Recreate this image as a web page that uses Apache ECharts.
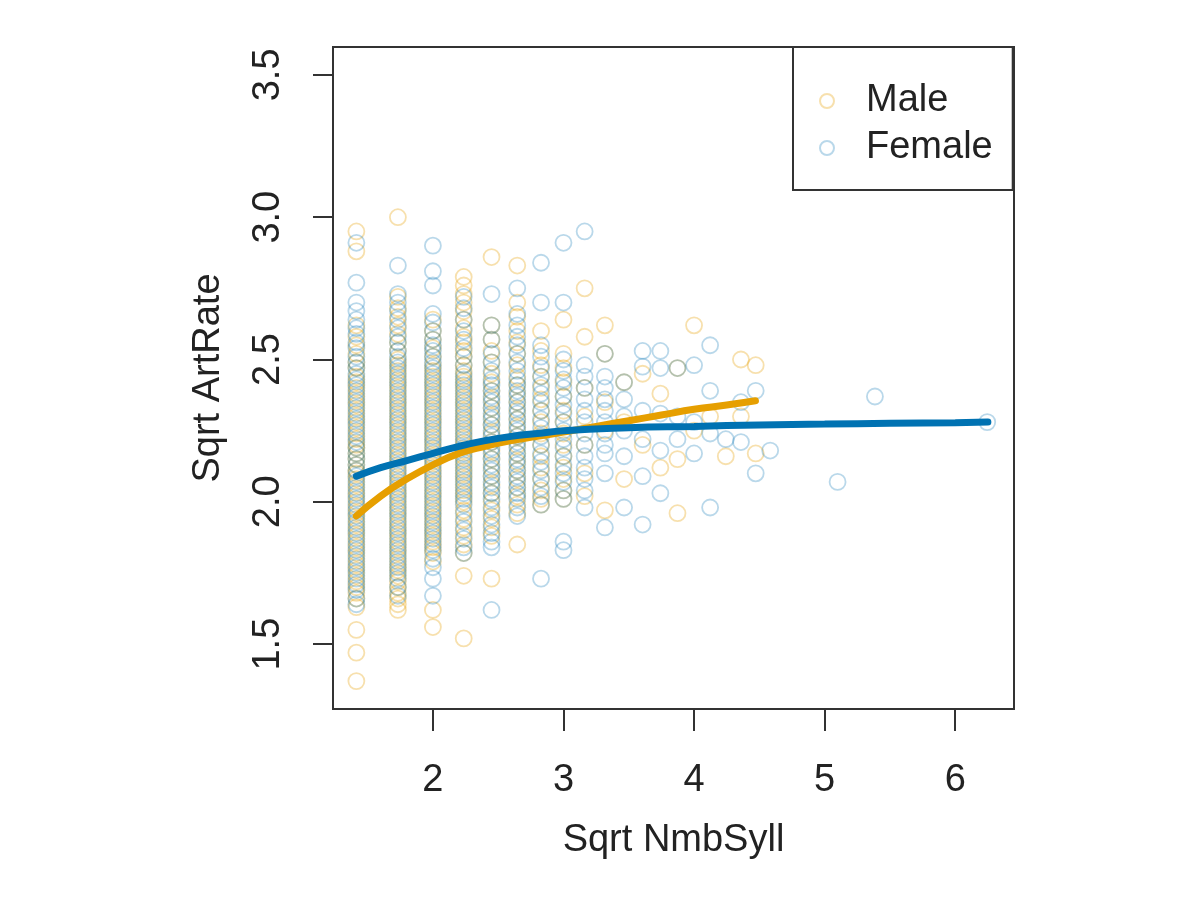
<!DOCTYPE html>
<html>
<head>
    <meta charset="UTF-8">
    <title>Sqrt ArtRate vs Sqrt NmbSyll</title>
    <script src="https://cdn.jsdelivr.net/npm/echarts@6/dist/echarts.min.js"></script>
    <style>
        html, body { margin: 0; padding: 0; background: #fff; }
        #chart { width: 1200px; height: 911px; }
    </style>
</head>
<body>
<div id="chart"></div>
<script>
    // x positions of the dense columns (sqrt of syllable count 2..9)
    var colX = [1.414, 1.732, 2.0, 2.236, 2.449, 2.646, 2.828, 3.0];

    // y values read per column, male
    var maleCols = [
        [2.95, 2.88, 2.62, 2.58, 2.55, 2.52, 2.49, 2.47, 2.44, 2.42, 2.40, 2.38, 2.36, 2.34, 2.32, 2.30, 2.28, 2.26, 2.24, 2.22, 2.20, 2.19, 2.17, 2.15, 2.13, 2.11, 2.10, 2.08, 2.06, 2.04, 2.02, 2.00, 1.98, 1.96, 1.94, 1.92, 1.90, 1.88, 1.86, 1.84, 1.82, 1.80, 1.78, 1.76, 1.74, 1.72, 1.70, 1.68, 1.66, 1.63, 1.55, 1.47, 1.37],
        [3.00, 2.72, 2.68, 2.65, 2.62, 2.59, 2.56, 2.53, 2.50, 2.48, 2.46, 2.44, 2.42, 2.40, 2.38, 2.36, 2.34, 2.32, 2.30, 2.28, 2.26, 2.24, 2.22, 2.20, 2.18, 2.16, 2.14, 2.12, 2.10, 2.08, 2.06, 2.04, 2.02, 2.00, 1.98, 1.96, 1.94, 1.92, 1.90, 1.88, 1.86, 1.84, 1.82, 1.80, 1.78, 1.76, 1.74, 1.72, 1.70, 1.68, 1.66, 1.64, 1.62],
        [2.64, 2.60, 2.57, 2.54, 2.51, 2.48, 2.46, 2.44, 2.42, 2.40, 2.38, 2.36, 2.34, 2.32, 2.30, 2.28, 2.26, 2.24, 2.22, 2.20, 2.18, 2.16, 2.14, 2.12, 2.10, 2.08, 2.06, 2.04, 2.02, 2.00, 1.98, 1.96, 1.94, 1.92, 1.90, 1.88, 1.86, 1.84, 1.82, 1.79, 1.62, 1.56],
        [2.79, 2.76, 2.73, 2.70, 2.67, 2.64, 2.61, 2.58, 2.56, 2.53, 2.51, 2.48, 2.46, 2.44, 2.42, 2.40, 2.38, 2.36, 2.34, 2.32, 2.30, 2.28, 2.26, 2.24, 2.22, 2.20, 2.18, 2.16, 2.14, 2.12, 2.10, 2.08, 2.06, 2.04, 2.02, 2.00, 1.97, 1.94, 1.91, 1.88, 1.85, 1.82, 1.74, 1.52],
        [2.86, 2.62, 2.57, 2.53, 2.49, 2.45, 2.42, 2.39, 2.36, 2.33, 2.30, 2.27, 2.24, 2.21, 2.18, 2.15, 2.12, 2.09, 2.06, 2.03, 2.00, 1.97, 1.94, 1.91, 1.88, 1.73],
        [2.83, 2.70, 2.65, 2.60, 2.56, 2.52, 2.48, 2.44, 2.41, 2.38, 2.35, 2.32, 2.29, 2.26, 2.23, 2.20, 2.17, 2.14, 2.11, 2.08, 2.05, 2.02, 1.99, 1.96, 1.85],
        [2.60, 2.53, 2.48, 2.44, 2.40, 2.36, 2.32, 2.28, 2.24, 2.20, 2.16, 2.12, 2.08, 2.04, 2.01, 1.99],
        [2.64, 2.52, 2.47, 2.42, 2.37, 2.32, 2.28, 2.24, 2.20, 2.16, 2.12, 2.08, 2.04, 2.01]
    ];

    // y values read per column, female
    var femaleCols = [
        [2.91, 2.77, 2.70, 2.67, 2.64, 2.61, 2.59, 2.56, 2.54, 2.51, 2.49, 2.47, 2.45, 2.43, 2.41, 2.39, 2.37, 2.35, 2.33, 2.31, 2.29, 2.27, 2.25, 2.23, 2.21, 2.19, 2.17, 2.15, 2.13, 2.11, 2.09, 2.07, 2.05, 2.03, 2.01, 1.99, 1.97, 1.95, 1.93, 1.91, 1.89, 1.87, 1.85, 1.83, 1.81, 1.79, 1.77, 1.75, 1.73, 1.71, 1.69, 1.66, 1.64],
        [2.83, 2.73, 2.70, 2.67, 2.64, 2.61, 2.58, 2.56, 2.53, 2.51, 2.49, 2.47, 2.45, 2.43, 2.41, 2.39, 2.37, 2.35, 2.33, 2.31, 2.29, 2.27, 2.25, 2.23, 2.21, 2.19, 2.17, 2.15, 2.13, 2.11, 2.09, 2.07, 2.05, 2.03, 2.01, 1.99, 1.97, 1.95, 1.93, 1.91, 1.89, 1.87, 1.85, 1.83, 1.81, 1.79, 1.77, 1.75, 1.73, 1.70, 1.67],
        [2.90, 2.81, 2.76, 2.66, 2.63, 2.60, 2.57, 2.55, 2.53, 2.51, 2.49, 2.47, 2.45, 2.43, 2.41, 2.39, 2.37, 2.35, 2.33, 2.31, 2.29, 2.27, 2.25, 2.23, 2.21, 2.19, 2.17, 2.15, 2.13, 2.11, 2.09, 2.07, 2.05, 2.03, 2.01, 1.99, 1.97, 1.95, 1.93, 1.91, 1.89, 1.87, 1.85, 1.83, 1.80, 1.77, 1.73, 1.67],
        [2.72, 2.68, 2.64, 2.60, 2.57, 2.54, 2.51, 2.48, 2.45, 2.43, 2.41, 2.39, 2.37, 2.35, 2.33, 2.31, 2.29, 2.27, 2.25, 2.23, 2.21, 2.19, 2.17, 2.15, 2.13, 2.11, 2.09, 2.07, 2.05, 2.03, 2.01, 1.99, 1.96, 1.93, 1.90, 1.87, 1.84, 1.82],
        [2.73, 2.62, 2.57, 2.52, 2.49, 2.46, 2.43, 2.41, 2.39, 2.37, 2.35, 2.33, 2.31, 2.29, 2.27, 2.25, 2.23, 2.21, 2.19, 2.17, 2.15, 2.13, 2.11, 2.09, 2.07, 2.05, 2.03, 2.01, 1.98, 1.95, 1.92, 1.89, 1.86, 1.84, 1.62],
        [2.75, 2.66, 2.62, 2.58, 2.55, 2.52, 2.49, 2.46, 2.43, 2.41, 2.39, 2.37, 2.35, 2.33, 2.31, 2.29, 2.27, 2.25, 2.23, 2.21, 2.19, 2.17, 2.15, 2.13, 2.11, 2.09, 2.07, 2.05, 2.03, 2.01, 1.98, 1.95],
        [2.84, 2.70, 2.55, 2.51, 2.47, 2.44, 2.41, 2.38, 2.35, 2.32, 2.29, 2.26, 2.23, 2.20, 2.17, 2.14, 2.11, 2.08, 2.05, 2.02, 1.99, 1.73],
        [2.91, 2.70, 2.50, 2.46, 2.43, 2.40, 2.37, 2.34, 2.31, 2.28, 2.25, 2.22, 2.19, 2.16, 2.13, 2.10, 2.07, 2.04, 2.01, 1.86, 1.83]
    ];

    // sparse points further right [x, y]
    var maleExtra = [
        [3.162, 2.75], [3.162, 2.58], [3.162, 2.40], [3.162, 2.30], [3.162, 2.20], [3.162, 2.10], [3.162, 2.02],
        [3.317, 2.62], [3.317, 2.52], [3.317, 2.35], [3.317, 2.25], [3.317, 1.97],
        [3.464, 2.42], [3.464, 2.28], [3.464, 2.08],
        [3.606, 2.45], [3.606, 2.20],
        [3.742, 2.38], [3.742, 2.12],
        [3.873, 2.47], [3.873, 2.15], [3.873, 1.96],
        [4.0, 2.62], [4.0, 2.25],
        [4.123, 2.30], [4.243, 2.16],
        [4.359, 2.50], [4.359, 2.30],
        [4.472, 2.48], [4.472, 2.17]
    ];
    var femaleExtra = [
        [3.162, 2.95], [3.162, 2.48], [3.162, 2.44], [3.162, 2.40], [3.162, 2.36], [3.162, 2.32], [3.162, 2.28],
        [3.162, 2.24], [3.162, 2.20], [3.162, 2.16], [3.162, 2.12], [3.162, 2.08], [3.162, 2.04], [3.162, 1.98],
        [3.317, 2.52], [3.317, 2.44], [3.317, 2.40], [3.317, 2.36], [3.317, 2.32], [3.317, 2.28], [3.317, 2.24],
        [3.317, 2.20], [3.317, 2.17], [3.317, 2.10], [3.317, 1.91],
        [3.464, 2.42], [3.464, 2.36], [3.464, 2.30], [3.464, 2.25], [3.464, 2.16], [3.464, 1.98],
        [3.606, 2.53], [3.606, 2.475], [3.606, 2.32], [3.606, 2.22], [3.606, 2.09], [3.606, 1.92],
        [3.742, 2.53], [3.742, 2.47], [3.742, 2.31], [3.742, 2.18], [3.742, 2.03],
        [3.873, 2.47], [3.873, 2.30], [3.873, 2.22],
        [4.0, 2.48], [4.0, 2.28], [4.0, 2.17],
        [4.123, 2.55], [4.123, 2.39], [4.123, 2.24], [4.123, 1.98],
        [4.243, 2.22],
        [4.359, 2.35], [4.359, 2.21],
        [4.472, 2.39], [4.472, 2.10],
        [4.583, 2.18],
        [5.099, 2.07],
        [5.385, 2.37],
        [6.245, 2.28]
    ];

    // fitted smooth curves
    var maleFitX = [1.414, 1.6, 1.8, 2.0, 2.2, 2.4, 2.6, 2.8, 3.0, 3.25, 3.5, 3.75, 4.0, 4.25, 4.47];
    var maleFitY = [1.95, 2.02, 2.08, 2.13, 2.17, 2.195, 2.215, 2.23, 2.245, 2.265, 2.285, 2.305, 2.325, 2.34, 2.355];
    var femaleFitX = [1.414, 1.6, 1.8, 2.0, 2.2, 2.4, 2.6, 2.8, 3.0, 3.5, 4.0, 4.5, 5.0, 5.5, 6.0, 6.25];
    var femaleFitY = [2.09, 2.12, 2.145, 2.17, 2.195, 2.215, 2.23, 2.24, 2.25, 2.26, 2.265, 2.27, 2.273, 2.276, 2.278, 2.28];

    var xTicks = [2, 3, 4, 5, 6];
    var yTicks = [1.5, 2.0, 2.5, 3.0, 3.5];

    function toPoints(xs, cols) {
        var out = [];
        for (var i = 0; i < cols.length; i++) {
            for (var j = 0; j < cols[i].length; j++) {
                out.push([xs[i], cols[i][j]]);
            }
        }
        return out;
    }
    function zip(xs, ys) {
        return xs.map(function (x, i) { return [x, ys[i]]; });
    }

    var malePts = toPoints(colX, maleCols).concat(maleExtra);
    var femalePts = toPoints(colX, femaleCols).concat(femaleExtra);

    var font = 'Liberation Sans, Arial, Helvetica, sans-serif';
    var txt = '#222';

    var myChart = echarts.init(document.getElementById('chart'));
    myChart.setOption({
        backgroundColor: '#fff',
        animation: false,
        grid: {
            left: 333,
            right: 186,
            top: 47,
            bottom: 202,
            show: true,
            borderColor: '#333',
            borderWidth: 2,
            backgroundColor: 'transparent'
        },
        legend: {
            data: ['Male', 'Female'],
            orient: 'vertical',
            left: 793,
            top: 47,
            padding: [35, 20, 23, 26],
            itemWidth: 68,
            itemHeight: 14,
            itemGap: 9,
            borderColor: '#333',
            borderWidth: 2,
            backgroundColor: '#fff',
            textStyle: { fontFamily: font, fontSize: 38, color: txt },
            selectedMode: false
        },
        xAxis: {
            type: 'value',
            min: 1.235,
            max: 6.45,
            name: 'Sqrt NmbSyll',
            nameLocation: 'middle',
            nameGap: 113,
            nameTextStyle: { fontFamily: font, fontSize: 38, color: txt },
            axisLine: { show: false },
            splitLine: { show: false },
            axisTick: {
                show: true, length: 22, inside: false,
                customValues: xTicks,
                lineStyle: { color: '#333', width: 2 }
            },
            axisLabel: {
                customValues: xTicks,
                margin: 53,
                fontFamily: font, fontSize: 38, color: txt
            }
        },
        yAxis: {
            type: 'value',
            min: 1.272,
            max: 3.598,
            name: 'Sqrt ArtRate',
            nameLocation: 'middle',
            nameGap: 105,
            nameTextStyle: { fontFamily: font, fontSize: 38, color: txt },
            axisLine: { show: false },
            splitLine: { show: false },
            axisTick: {
                show: true, length: 20, inside: false,
                customValues: yTicks,
                lineStyle: { color: '#333', width: 2 }
            },
            axisLabel: {
                customValues: yTicks,
                rotate: 90,
                margin: 45,
                fontFamily: font, fontSize: 38, color: txt,
                formatter: function (v) { return v.toFixed(1); }
            }
        },
        series: [
            {
                name: 'Male',
                type: 'scatter',
                symbol: 'circle',
                symbolSize: 16,
                itemStyle: {
                    color: 'transparent',
                    borderColor: 'rgba(230,159,0,0.4)',
                    borderWidth: 1.8
                },
                data: malePts
            },
            {
                name: 'Female',
                type: 'scatter',
                symbol: 'circle',
                symbolSize: 16,
                itemStyle: {
                    color: 'transparent',
                    borderColor: 'rgba(0,114,178,0.34)',
                    borderWidth: 1.8
                },
                data: femalePts
            },
            {
                name: 'Male fit',
                type: 'line',
                smooth: true,
                showSymbol: false,
                lineStyle: { color: '#E69F00', width: 7, cap: 'round' },
                z: 5,
                data: zip(maleFitX, maleFitY)
            },
            {
                name: 'Female fit',
                type: 'line',
                smooth: true,
                showSymbol: false,
                lineStyle: { color: '#0072B2', width: 7, cap: 'round' },
                z: 6,
                data: zip(femaleFitX, femaleFitY)
            }
        ]
    });
</script>
</body>
</html>
